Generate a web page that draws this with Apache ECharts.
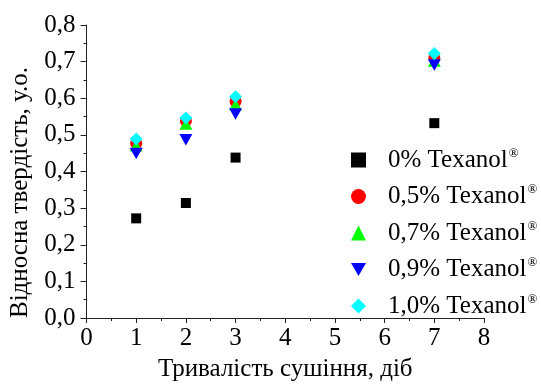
<!DOCTYPE html>
<html>
<head>
<meta charset="utf-8">
<script src="https://cdn.jsdelivr.net/npm/echarts@6/dist/echarts.min.js"></script>
<style>html,body{margin:0;padding:0;background:#fff}#c{width:541px;height:387px}</style>
</head>
<body>
<div id="c"></div>
<script>
const days = [1, 2, 3, 7];
const seriesNames = ['0% Texanol', '0,5% Texanol', '0,7% Texanol', '0,9% Texanol', '1,0% Texanol'];
const s0 = [0.272, 0.314, 0.438, 0.532];
const s05 = [0.477, 0.538, 0.592, 0.710];
const s07 = [0.470, 0.530, 0.582, 0.702];
const s09 = [0.449, 0.487, 0.557, 0.691];
const s10 = [0.489, 0.546, 0.604, 0.722];
const xTicks = [0, 1, 2, 3, 4, 5, 6, 7, 8];
const yTicks = [0.0, 0.1, 0.2, 0.3, 0.4, 0.5, 0.6, 0.7, 0.8];

const FONT = 'Liberation Serif';
const FS = 25;
const values = [s0, s05, s07, s09, s10];
const colors = ['#000000', '#ff0000', '#00ff00', '#0000ff', '#00ffff'];
const symbols = ['rect', 'circle', 'triangle', 'path://M0,0 L2,0 L1,1.75 Z', 'diamond'];
const sizes = [[10, 10], 12, [13, 11.5], [13, 11.5], [13, 13]];

const chart = echarts.init(document.getElementById('c'));
chart.setOption({
  animation: false,
  backgroundColor: '#fff',
  textStyle: { fontFamily: FONT },
  grid: { left: 86.5, right: 57, top: 25, bottom: 66 },
  xAxis: {
    type: 'value', min: xTicks[0], max: xTicks[xTicks.length - 1], interval: 1,
    name: 'Тривалість сушіння, діб', nameLocation: 'middle', nameGap: 39,
    nameTextStyle: { fontFamily: FONT, fontSize: FS, color: '#000' },
    axisLine: { show: true, lineStyle: { color: '#222', width: 1 } },
    axisTick: { show: true, inside: false, length: 5, lineStyle: { color: '#222' } },
    minorTick: { show: true, splitNumber: 2, length: 3, lineStyle: { color: '#222' } },
    axisLabel: { fontFamily: FONT, fontSize: FS, color: '#000', margin: 8 },
    splitLine: { show: false }
  },
  yAxis: {
    type: 'value', min: yTicks[0], max: yTicks[yTicks.length - 1], interval: 0.1,
    name: 'Відносна твердість, у.о.', nameLocation: 'middle', nameGap: 51,
    nameTextStyle: { fontFamily: FONT, fontSize: FS, color: '#000', padding: [0, 42, 0, 0] },
    axisLine: { show: true, lineStyle: { color: '#222', width: 1 } },
    axisTick: { show: true, inside: false, length: 6, lineStyle: { color: '#222' } },
    minorTick: { show: true, splitNumber: 2, length: 3, lineStyle: { color: '#222' } },
    axisLabel: { fontFamily: FONT, fontSize: FS, color: '#000', margin: 11,
      formatter: v => v.toFixed(1).replace('.', ',') },
    splitLine: { show: false }
  },
  legend: {
    orient: 'vertical', left: 346, top: 142,
    itemWidth: 15, itemHeight: 15, itemGap: 11,
    formatter: name => '{a|' + name + '}{s|®}',
    textStyle: {
      fontFamily: FONT, color: '#000',
      rich: {
        a: { fontFamily: FONT, fontSize: FS, color: '#000', lineHeight: 26, padding: [0, 0, 0, 17] },
        s: { fontFamily: FONT, fontSize: 13, color: '#000', lineHeight: 26, verticalAlign: 'top', padding: [0, 0, 12, 1] }
      }
    },
    data: seriesNames
  },
  series: seriesNames.map((n, i) => ({
    name: n, type: 'scatter',
    symbol: symbols[i], symbolSize: sizes[i],
    itemStyle: { color: colors[i], opacity: 1 },
    data: days.map((d, j) => [d, values[i][j]]),
    z: 2 + i
  }))
});
</script>
</body>
</html>
